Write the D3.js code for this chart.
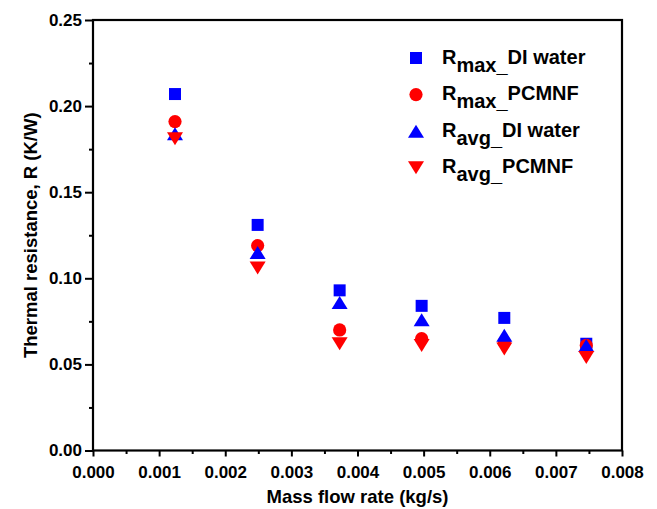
<!DOCTYPE html>
<html>
<head>
<meta charset="utf-8">
<script src="https://cdn.jsdelivr.net/npm/d3@7"></script>
<style>
  html, body { margin: 0; padding: 0; background: #fff; }
  svg text { font-family: "Liberation Sans", Arial, sans-serif; font-weight: bold; fill: #000; }
</style>
</head>
<body>
<svg id="chart" width="657" height="509"></svg>
<script>
// Mass flow rate (kg/s)
const flowRate = [0.00124, 0.00249, 0.00373, 0.00497, 0.00622, 0.00746];
// Thermal resistance (K/W)
const rMaxDI    = [0.207, 0.131, 0.093, 0.084, 0.077, 0.062];
const rMaxPCMNF = [0.191, 0.119, 0.070, 0.065, 0.063, 0.061];
const rAvgDI    = [0.184, 0.115, 0.086, 0.076, 0.067, 0.061];
const rAvgPCMNF = [0.181, 0.106, 0.062, 0.061, 0.059, 0.054];

const xTicks = [0, 0.001, 0.002, 0.003, 0.004, 0.005, 0.006, 0.007, 0.008];
const yTicks = [0, 0.05, 0.10, 0.15, 0.20, 0.25];

const series = [
  { sub: "max", name: "DI water", values: rMaxDI,    color: "#0000ff", shape: "square" },
  { sub: "max", name: "PCMNF",    values: rMaxPCMNF, color: "#ff0000", shape: "circle" },
  { sub: "avg", name: "DI water", values: rAvgDI,    color: "#0000ff", shape: "up" },
  { sub: "avg", name: "PCMNF",    values: rAvgPCMNF, color: "#ff0000", shape: "down" }
];

const svg = d3.select("#chart");
const plot = { left: 93, right: 622, top: 20, bottom: 450.5 };

const x = d3.scaleLinear().domain([0, 0.008]).range([plot.left, plot.right]);
const y = d3.scaleLinear().domain([0, 0.25]).range([plot.bottom, plot.top]);

// marker path generators, centred on their bounding box
function markerPath(shape) {
  if (shape === "square") return "M-6,-6H6V6H-6Z";
  if (shape === "circle") return d3.symbol(d3.symbolCircle, Math.PI * 6.6 * 6.6)();
  if (shape === "up") return "M0,-6.5L8,6.5L-8,6.5Z";
  return "M-8,-6.5L8,-6.5L0,6.5Z";
}

// axes with outward major and minor ticks
const xMinor = d3.range(0.0005, 0.008, 0.001);
const yMinor = d3.range(0.025, 0.25, 0.05);

const xAxis = svg.append("g").attr("transform", `translate(0,${plot.bottom})`);
xAxis.call(d3.axisBottom(x).tickValues(xTicks).tickFormat(d3.format(".3f")).tickSize(6).tickPadding(5).tickSizeOuter(0));
xAxis.append("g").call(d3.axisBottom(x).tickValues(xMinor).tickSize(3.5).tickFormat(""));

const yAxis = svg.append("g").attr("transform", `translate(${plot.left},0)`);
yAxis.call(d3.axisLeft(y).tickValues(yTicks).tickFormat(d3.format(".2f")).tickSize(8).tickPadding(3).tickSizeOuter(0));
yAxis.append("g").call(d3.axisLeft(y).tickValues(yMinor).tickSize(4).tickFormat(""));

svg.selectAll(".domain").remove();
svg.selectAll(".tick line").attr("stroke", "#000").attr("stroke-width", 2);
svg.selectAll(".tick text").style("font-size", "17px");
xAxis.selectAll(".tick text").attr("dy", "0.95em");

// plot frame
svg.append("rect")
  .attr("x", plot.left).attr("y", plot.top)
  .attr("width", plot.right - plot.left).attr("height", plot.bottom - plot.top)
  .attr("fill", "none").attr("stroke", "#000").attr("stroke-width", 2.2);

// scatter markers
series.forEach(s => {
  svg.append("g").selectAll("path")
    .data(s.values.map((v, i) => [flowRate[i], v]))
    .join("path")
    .attr("d", markerPath(s.shape))
    .attr("transform", d => `translate(${x(d[0])},${y(d[1])})`)
    .attr("fill", s.color);
});

// axis titles
svg.append("text")
  .attr("x", (plot.left + plot.right) / 2).attr("y", 503)
  .attr("text-anchor", "middle")
  .style("font-size", "18.5px")
  .text("Mass flow rate (kg/s)");

svg.append("text")
  .attr("transform", `translate(37,${(plot.top + plot.bottom) / 2}) rotate(-90)`)
  .attr("text-anchor", "middle")
  .style("font-size", "18.5px")
  .text("Thermal resistance, R (K/W)");

// legend
const legend = svg.append("g");
series.forEach((s, i) => {
  const cy = 58 + i * 36.6;
  legend.append("path")
    .attr("d", markerPath(s.shape))
    .attr("transform", `translate(416,${cy})`)
    .attr("fill", s.color);
  const t = legend.append("text")
    .attr("x", 442).attr("y", cy + 5.5)
    .style("font-size", "20px");
  t.append("tspan").text("R");
  t.append("tspan").attr("dy", 8).text(s.sub + "_");
  t.append("tspan").attr("dy", -8).text(s.name);
});
</script>
</body>
</html>
